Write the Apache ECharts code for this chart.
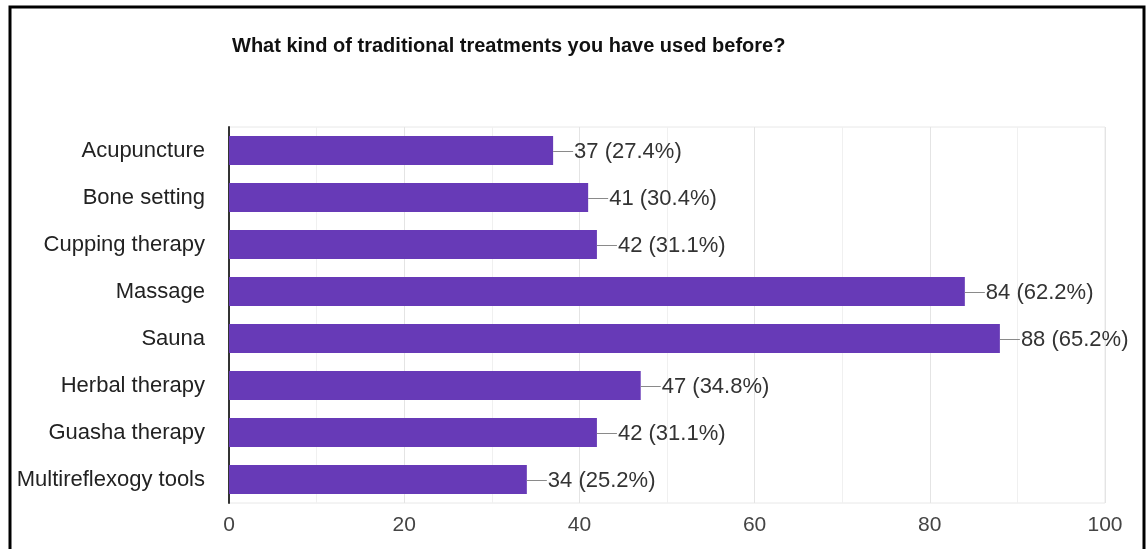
<!DOCTYPE html>
<html>
<head>
<meta charset="utf-8">
<script src="https://cdn.jsdelivr.net/npm/echarts@6/dist/echarts.min.js"></script>
<style>
html,body{margin:0;padding:0;background:#fff;}
#c{width:1147px;height:549px;}
</style>
</head>
<body>
<div id="c"></div>
<script>
const titleText = 'What kind of traditional treatments you have used before?';
const categories = ['Acupuncture','Bone setting','Cupping therapy','Massage','Sauna','Herbal therapy','Guasha therapy','Multireflexogy tools'];
const counts = [37,41,42,84,88,47,42,34];
const percents = ['27.4','30.4','31.1','62.2','65.2','34.8','31.1','25.2'];
const xTicks = [0,20,40,60,80,100];

const chart = echarts.init(document.getElementById('c'), null, {renderer:'canvas'});
const font = 'Arial, "Liberation Sans", sans-serif';
chart.setOption({
  animation:false,
  backgroundColor:'#fff',
  title:{
    text:titleText, left:232, top:36, padding:0,
    textStyle:{fontFamily:font,fontWeight:'bold',fontSize:20,color:'#111'}
  },
  graphic:[{
    type:'polyline',
    shape:{points:[[10,560],[10,7],[1144,7],[1144,560]]},
    style:{stroke:'#000',lineWidth:3,fill:null},
    silent:true
  }],
  grid:{left:229,right:42,top:127,bottom:46,show:true,borderColor:'#e8e8e8',borderWidth:1},
  xAxis:{
    type:'value',min:0,max:100,interval:20,
    axisLine:{show:false},axisTick:{show:false},
    axisLabel:{fontFamily:font,fontSize:21,color:'#444',margin:12,
      formatter:v=>xTicks.includes(v)?String(v):''},
    splitLine:{show:true,lineStyle:{color:'#e4e4e4',width:1}},
    minorTick:{show:false,splitNumber:2},
    minorSplitLine:{show:true,lineStyle:{color:'#f0f0f0',width:1}}
  },
  yAxis:{
    type:'category',data:categories,inverse:true,
    axisLine:{show:true,lineStyle:{color:'#333',width:2}},
    axisTick:{show:false},
    axisLabel:{fontFamily:font,fontSize:22,color:'#222',margin:24,padding:[5,0,0,0]},
    splitLine:{show:false}
  },
  series:[{
    type:'bar',data:counts,barWidth:29,
    itemStyle:{color:'#673ab7'},
    label:{
      show:true,position:'right',distance:0,offset:[0,1],
      formatter:p=>'{l|}{t|'+counts[p.dataIndex]+' ('+percents[p.dataIndex]+'%)}',
      rich:{
        l:{width:20,height:1,backgroundColor:'#8a8a8a'},
        t:{fontFamily:font,fontSize:22,color:'#333',padding:[0,0,0,1]}
      }
    }
  }]
});
</script>
</body>
</html>
